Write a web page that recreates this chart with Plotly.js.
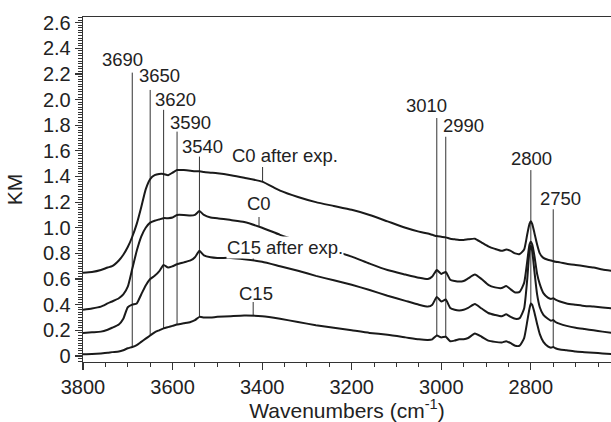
<!DOCTYPE html>
<html>
<head>
<meta charset="utf-8">
<script src="https://cdn.plot.ly/plotly-3.0.1.min.js"></script>
<style>html,body{margin:0;padding:0;background:#fff;}#chart{width:611px;height:422px;}</style>
</head>
<body>
<div id="chart"></div>
<script>
// ---- data ----
const wn = [3800,3780,3760,3745,3735,3720,3710,3700,3690,3680,3670,3660,3650,3640,3630,3620,3610,3600,3590,3575,3560,3550,3540,3530,3515,3500,3470,3440,3400,3360,3320,3280,3240,3200,3160,3120,3080,3050,3030,3020,3010,3000,2990,2980,2970,2960,2950,2940,2925,2910,2895,2880,2865,2855,2845,2835,2825,2815,2808,2803,2800,2797,2792,2786,2780,2772,2762,2755,2750,2745,2735,2720,2700,2680,2660,2640,2620];

const c0After = [0.65,0.655,0.67,0.69,0.70,0.745,0.79,0.85,0.93,1.03,1.16,1.30,1.38,1.41,1.42,1.42,1.41,1.43,1.45,1.45,1.445,1.44,1.44,1.435,1.43,1.425,1.41,1.39,1.36,1.29,1.24,1.20,1.17,1.14,1.10,1.05,1.00,0.97,0.955,0.945,0.935,0.93,0.925,0.915,0.91,0.905,0.905,0.91,0.915,0.885,0.855,0.835,0.82,0.83,0.82,0.80,0.795,0.83,0.95,1.03,1.05,1.03,0.96,0.87,0.80,0.765,0.75,0.745,0.74,0.735,0.73,0.72,0.71,0.70,0.69,0.675,0.665];

const c0 = [0.36,0.37,0.385,0.41,0.425,0.45,0.48,0.54,0.68,0.82,0.93,1.00,1.04,1.055,1.065,1.075,1.075,1.08,1.10,1.10,1.095,1.10,1.13,1.10,1.08,1.075,1.06,1.045,1.00,0.945,0.90,0.86,0.82,0.775,0.72,0.67,0.635,0.61,0.60,0.62,0.67,0.64,0.655,0.595,0.585,0.58,0.585,0.605,0.635,0.60,0.555,0.535,0.53,0.545,0.52,0.495,0.50,0.57,0.74,0.87,0.89,0.87,0.78,0.64,0.56,0.49,0.455,0.445,0.45,0.44,0.425,0.41,0.40,0.39,0.385,0.378,0.372];

const c15After = [0.18,0.185,0.19,0.205,0.22,0.245,0.29,0.38,0.40,0.41,0.48,0.55,0.60,0.625,0.66,0.71,0.69,0.70,0.715,0.73,0.745,0.77,0.82,0.785,0.77,0.765,0.765,0.755,0.735,0.70,0.665,0.625,0.59,0.555,0.515,0.47,0.43,0.40,0.385,0.40,0.46,0.425,0.44,0.375,0.36,0.355,0.36,0.375,0.405,0.37,0.335,0.32,0.31,0.325,0.305,0.29,0.295,0.37,0.60,0.82,0.86,0.82,0.66,0.48,0.38,0.32,0.29,0.275,0.28,0.265,0.25,0.235,0.22,0.21,0.20,0.19,0.18];

const c15 = [0.013,0.015,0.02,0.025,0.03,0.035,0.045,0.06,0.07,0.085,0.11,0.135,0.16,0.185,0.20,0.215,0.225,0.235,0.245,0.255,0.265,0.28,0.305,0.30,0.30,0.305,0.31,0.315,0.31,0.29,0.265,0.24,0.22,0.20,0.18,0.165,0.145,0.13,0.125,0.13,0.16,0.145,0.15,0.115,0.12,0.13,0.13,0.14,0.175,0.15,0.12,0.11,0.105,0.115,0.10,0.08,0.08,0.14,0.27,0.37,0.41,0.40,0.34,0.25,0.17,0.11,0.075,0.065,0.07,0.06,0.05,0.045,0.035,0.03,0.025,0.02,0.016];

const seriesNames = ['C0 after exp.', 'C0', 'C15 after exp.', 'C15'];

const xTickVals = [3800,3600,3400,3200,3000,2800];
const xTickText = ['3800','3600','3400','3200','3000','2800'];
const yTickVals = [0,0.2,0.4,0.6,0.8,1.0,1.2,1.4,1.6,1.8,2.0,2.2,2.4,2.6];
const yTickText = ['0','0.2','0.4','0.6','0.8','1.0','1.2','1.4','1.6','1.8','2.0','2.2','2.4','2.6'];

const peaks = [3690,3650,3620,3590,3540,3010,2990,2800,2750];
const peakLabels = ['3690','3650','3620','3590','3540','3010','2990','2800','2750'];

// ---- label placement (layout, not data) ----
const peakLineTop = [2.21,2.075,1.92,1.75,1.555,1.856,1.71,1.45,1.144];
const peakLabelX  = [3710.7,3629.1,3594.5,3561,3534.2,3033,2951,2799.4,2733.4];
const peakLabelY  = [2.309,2.184,2.0,1.821,1.634,1.95,1.80,1.537,1.225];

const curveLabelX   = [3348.8,3408,3348.8,3413.6];
const curveLabelY   = [1.56,1.186,0.846,0.484];
const curveTickX    = [3399,3407,3420,3420];
const curveTickTop  = [1.474,1.084,0.78,0.421];

// ---- helpers ----
function interp(xs, ys, x){
  for (let i=0;i<xs.length-1;i++){
    const a=xs[i], b=xs[i+1];
    if ((x<=a && x>=b) || (x>=a && x<=b)){
      const t=(x-a)/(b-a); return ys[i]+t*(ys[i+1]-ys[i]);
    }
  }
  return ys[ys.length-1];
}

const allSeries = [c0After, c0, c15After, c15];
const FONT = '"Liberation Sans", Arial, Helvetica, sans-serif';
const INK = '#1a1a1a';

const traces = allSeries.map((ys,i)=>({
  type:'scatter', mode:'lines', x:wn, y:ys, name:seriesNames[i],
  line:{color:INK, width:2, shape:'spline', smoothing:0.5},
  hoverinfo:'skip'
}));

const shapes = [];
peaks.forEach((p,i)=>{
  shapes.push({type:'line', xref:'x', yref:'y', x0:p, x1:p,
    y0:interp(wn,c15,p), y1:peakLineTop[i], line:{color:'#333', width:1}, layer:'below'});
});
curveTickX.forEach((x,i)=>{
  shapes.push({type:'line', xref:'x', yref:'y', x0:x, x1:x,
    y0:interp(wn,allSeries[i],x), y1:curveTickTop[i], line:{color:'#333', width:1}, layer:'below'});
});

const annotations = [];
peaks.forEach((p,i)=>{
  annotations.push({x:peakLabelX[i], y:peakLabelY[i], xref:'x', yref:'y', text:peakLabels[i],
    showarrow:false, xanchor:'center', yanchor:'middle', font:{family:FONT, size:18.5, color:'#222'}});
});
seriesNames.forEach((n,i)=>{
  annotations.push({x:curveLabelX[i], y:curveLabelY[i], xref:'x', yref:'y', text:n,
    showarrow:false, xanchor:'center', yanchor:'middle', font:{family:FONT, size:18.5, color:'#222'},
    bgcolor: i===2 ? '#ffffff' : 'rgba(0,0,0,0)', borderpad:0});
});

const layout = {
  width:611, height:422,
  margin:{l:83, r:0, t:17, b:60, pad:0},
  paper_bgcolor:'#fff', plot_bgcolor:'#fff',
  showlegend:false,
  font:{family:FONT, color:'#222'},
  xaxis:{
    range:[3800,2621], tickmode:'array', tickvals:xTickVals, ticktext:xTickText,
    ticks:'outside', ticklen:7, tickwidth:1.2, tickcolor:'#333',
    showline:true, linecolor:'#333', linewidth:1.3, mirror:true,
    showgrid:false, zeroline:false,
    tickfont:{family:FONT, size:20, color:'#222'},
    minor:{dtick:50, tick0:0, ticks:'outside', ticklen:4, tickwidth:1, tickcolor:'#333', showgrid:false},
    title:{text:'Wavenumbers (cm<sup>-1</sup>)', font:{family:FONT, size:21, color:'#222'}, standoff:11}
  },
  yaxis:{
    range:[-0.047,2.644], tickmode:'array', tickvals:yTickVals, ticktext:yTickText,
    ticks:'outside', ticklen:7, tickwidth:1.2, tickcolor:'#333',
    showline:true, linecolor:'#333', linewidth:1.3, mirror:false,
    showgrid:false, zeroline:false,
    tickfont:{family:FONT, size:20, color:'#222'},
    minor:{dtick:0.02, tick0:0, ticks:'outside', ticklen:3.5, tickwidth:1, tickcolor:'#333', showgrid:false},
    title:{text:'KM', font:{family:FONT, size:21, color:'#222'}, standoff:14}
  },
  shapes:shapes,
  annotations:annotations
};

Plotly.newPlot('chart', traces, layout, {displayModeBar:false, staticPlot:true});
</script>
</body>
</html>
